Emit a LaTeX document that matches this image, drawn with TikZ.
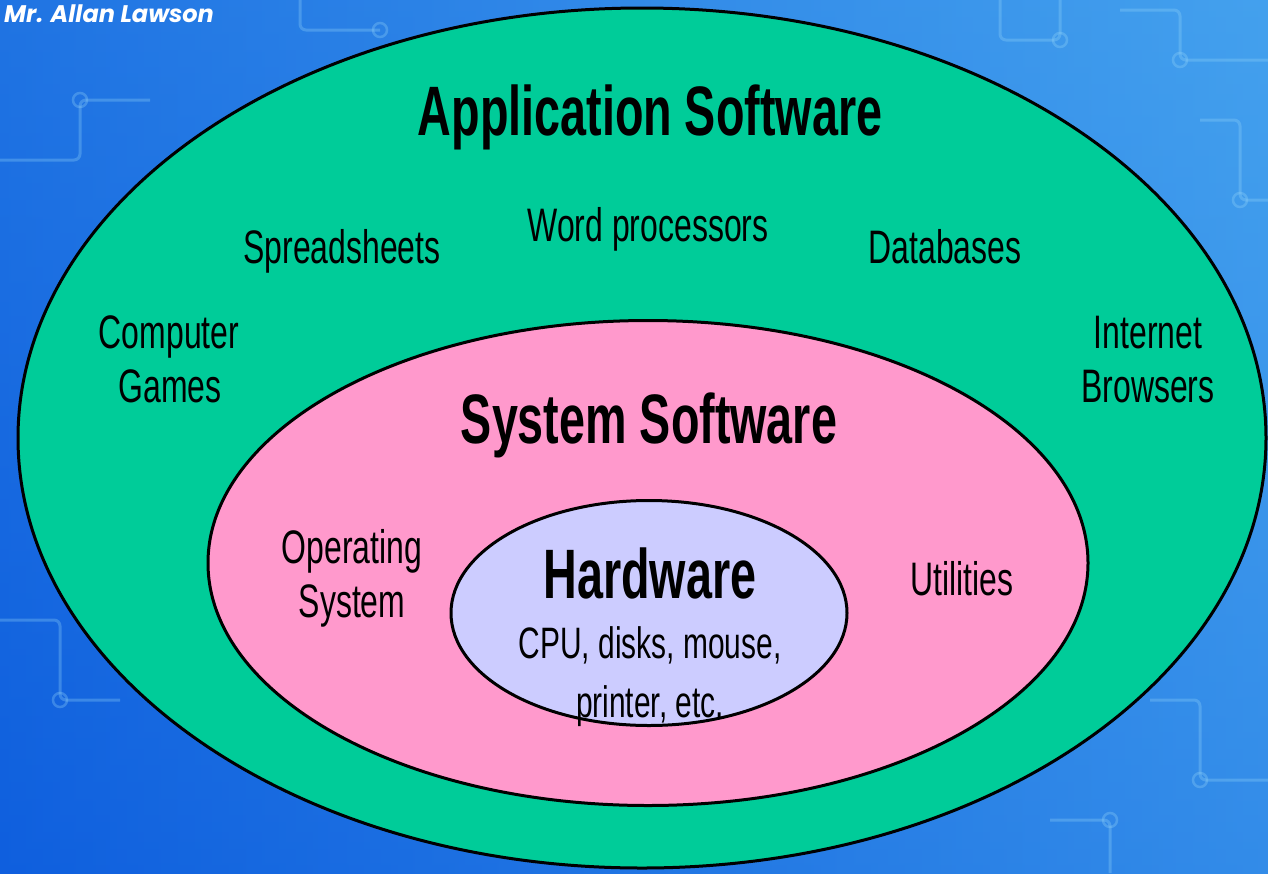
\documentclass[tikz,border=0pt]{standalone}
\usepackage{fontspec}
\usetikzlibrary{shapes.geometric}
\newfontfamily\lblfont[FakeStretch=0.68]{Liberation Sans}
\newfontfamily\ttlfont[FakeStretch=0.667]{Liberation Sans}
\newfontfamily\authfont{Poppins}
\definecolor{appgreen}{RGB}{0,204,153}
\definecolor{syspink}{RGB}{255,153,204}
\definecolor{hwlav}{RGB}{204,204,255}
\definecolor{bgdark}{RGB}{15,95,222}
\definecolor{bglight}{RGB}{75,170,240}
\definecolor{trace}{RGB}{150,215,250}
\tikzset{
  ring/.style={ellipse, draw=black, line width=3pt, inner sep=0pt},
  lbl/.style={anchor=base, inner sep=0pt, font=\lblfont\fontsize{47}{50}\selectfont},
  sublbl/.style={anchor=base, inner sep=0pt, font=\lblfont\fontsize{44}{48}\selectfont},
  ttl/.style={anchor=base, inner sep=0pt, font=\ttlfont\bfseries\fontsize{70}{74}\selectfont},
  circuit/.style={draw=trace, line width=3pt, opacity=0.3, rounded corners=6pt},
}
\begin{document}
\begin{tikzpicture}[x=1pt, y=-1pt]
\useasboundingbox (0,0) rectangle (1268,873);
\clip (0,0) rectangle (1268,873);
% background
\shade[left color=bgdark, right color=bglight] (0,0) rectangle (1268,873);
\shade[top color=bglight!70!bgdark, bottom color=bgdark, opacity=0.4] (0,0) rectangle (1268,873);
% faint circuit traces
\draw[circuit] (1000,0) -- (1000,40) -- (1060,40) -- (1060,0);
\draw[circuit] (1120,10) -- (1180,10) -- (1180,60) -- (1268,60);
\draw[circuit] (1200,120) -- (1240,120) -- (1240,200) -- (1268,200);
\draw[circuit] (1150,700) -- (1200,700) -- (1200,780) -- (1268,780);
\draw[circuit] (1050,820) -- (1110,820) -- (1110,873);
\draw[circuit] (0,620) -- (60,620) -- (60,700) -- (120,700);
\draw[circuit] (0,160) -- (80,160) -- (80,100) -- (150,100);
\draw[circuit] (300,0) -- (300,30) -- (380,30);
\foreach \p in {(1060,40),(1180,60),(1240,200),(1200,780),(1110,820),(60,700),(80,100),(380,30)}
  \draw[draw=trace, line width=2.5pt, opacity=0.3] \p circle (7);
% author
\node[anchor=base west, inner sep=0pt, text=white, font=\authfont\bfseries\itshape\fontsize{24}{28}\selectfont] (author) at (4,22) {Mr. Allan Lawson};
% ellipses
\node[ring, fill=appgreen, minimum width=1248pt, minimum height=860pt] (outer) at (642,438) {};
\node[ring, fill=syspink, minimum width=880pt, minimum height=485pt] (middle) at (648,563) {};
\node[ring, fill=hwlav, minimum width=396pt, minimum height=225pt] (inner) at (649,613) {};
% application layer
\node[ttl] (apptitle) at (650,135) {Application Software};
\node[lbl] (word) at (648,241) {Word processors};
\node[lbl] (spread) at (342,263) {Spreadsheets};
\node[lbl] (db) at (945,263) {Databases};
\node[lbl] (games1) at (169,348) {Computer};
\node[lbl] (games2) at (170,402) {Games};
\node[lbl] (web1) at (1148,348) {Internet};
\node[lbl] (web2) at (1148,402) {Browsers};
% system layer
\node[ttl] (systitle) at (649,443) {System Software};
\node[lbl] (os1) at (352,563) {Operating};
\node[lbl] (os2) at (352,617) {System};
\node[lbl] (util) at (962,595) {Utilities};
% hardware
\node[ttl] (hwtitle) at (650,598) {Hardware};
\node[sublbl] (hw1) at (650,658) {CPU, disks, mouse,};
\node[sublbl] (hw2) at (650,717) {printer, etc.};
\end{tikzpicture}
\end{document}
